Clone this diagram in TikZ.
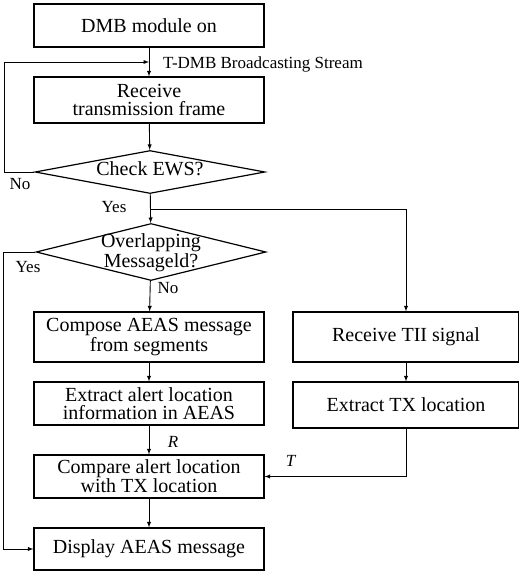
\documentclass[tikz,border=0pt]{standalone}
\usepackage{fontspec}
\setmainfont{Liberation Serif}
\usepackage{tikz}
\tikzset{>=latex}
\usetikzlibrary{shapes.geometric,calc}

\newcommand{\dtext}[2][-5pt]{\makebox[0pt]{\smash{\raisebox{#1}{\begin{tabular}{@{}c@{}}#2\end{tabular}}}}}

\begin{document}
\begin{tikzpicture}[x=1pt,y=-1pt]
      \tikzstyle{box}=[draw,line width=1.2pt,minimum width=230pt,inner sep=0pt,align=center,font=\fontsize{20}{18}\selectfont];
      \tikzstyle{dec}=[draw,diamond,line width=1.2pt,aspect=4.8,minimum width=230pt,inner sep=0pt,font=\fontsize{20}{20}\selectfont];
      \tikzstyle{lbl}=[inner sep=0pt,font=\fontsize{17}{17}\selectfont];
      \tikzstyle{flow}=[line width=0.9pt,->];
      \useasboundingbox (0,0) rectangle (519,574);

      \node[box,minimum height=43pt] (dmb) at (149,25.5) {DMB module on};
      \node[box,minimum height=46pt] (rcv) at (149,100) {Receive\\transmission frame};
      \node[dec,minimum height=43pt] (ews) at (150,172) {\dtext{Check EWS?}};
      \node[dec,minimum height=57pt] (ovl) at (151,252) {\dtext[-7pt]{Overlapping\\Messageld?}};
      \node[box,minimum height=50pt] (cmp) at (149,337) {Compose AEAS message\\from segments};
      \node[box,minimum height=43pt] (ext) at (149,403.5) {Extract alert location\\information in AEAS};
      \node[box,minimum height=43pt] (cpr) at (149,476.5) {Compare alert location\\with TX location};
      \node[box,minimum height=42pt] (dsp) at (149,549) {Display AEAS message};
      \node[box,minimum width=226pt,minimum height=50pt] (tii) at (406,337) {Receive TII signal};
      \node[box,minimum width=226pt,minimum height=46pt] (txl) at (406,405) {Extract TX location};

      \coordinate (join) at ($(dmb.south)!0.5!(rcv.north)$);
      \coordinate (split) at (150,209);

      \draw[flow] (dmb) -- (rcv);
      \draw[flow] (rcv) -- (ews);
      \draw[flow] (ews.west) -- ++(-30,0) |- (join);
      \draw[flow] (ews) -- (ovl);
      \draw[flow] (split) -| (tii);
      \draw[flow] (ovl) -- (cmp);
      \draw[flow] (ovl.west) -- ++(-32,0) |- (dsp.west);
      \draw[flow] (cmp) -- (ext);
      \draw[flow] (ext) -- (cpr);
      \draw[flow] (cpr) -- (dsp);
      \draw[flow] (tii) -- (txl);
      \draw[flow] (txl.south) |- (cpr.east);

      \node[lbl,anchor=west] (strm) at (163,64) {T-DMB Broadcasting Stream};
      \node[lbl] (no1) at (20,184) {No};
      \node[lbl] (yes1) at (114,207) {Yes};
      \node[lbl] (yes2) at (28,267) {Yes};
      \node[lbl] (no2) at (168,288) {No};
      \node[lbl] (rloc) at (173,442) {\textit{R}};
      \node[lbl] (tloc) at (291,461) {\textit{T}};
    \end{tikzpicture}
\end{document}
